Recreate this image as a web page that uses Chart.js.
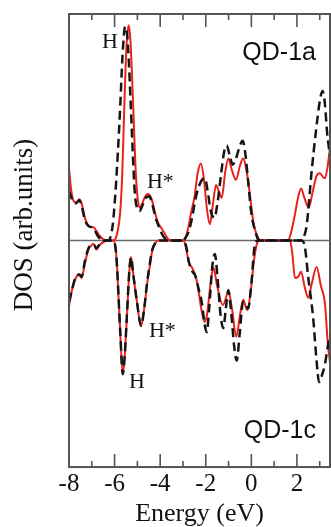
<!DOCTYPE html>
<html>
<head>
<meta charset="utf-8">
<script src="https://cdn.jsdelivr.net/npm/chart.js@4.4.0/dist/chart.umd.min.js"></script>
<style>
  html, body { margin: 0; padding: 0; background: #fff; }
  canvas { display: block; }
</style>
</head>
<body>
<canvas id="dos" width="331" height="527"></canvas>
<script>
// Density of states, QD-1a (upper half, positive) and QD-1c (lower half, drawn negative).
// Energies in eV, DOS in arbitrary units.

const topRedEnergy = [-8.00,-7.90,-7.80,-7.68,-7.55,-7.45,-7.30,-7.18,-7.05,-6.92,-6.80,-6.65,-6.48,-6.30,-6.05,-5.95,-5.85,-5.75,-5.67,-5.60,-5.52,-5.45,-5.38,-5.31,-5.24,-5.15,-5.06,-4.98,-4.90,-4.80,-4.68,-4.55,-4.45,-4.35,-4.22,-4.10,-3.95,-3.82,-3.70,-3.55,-3.00,-2.90,-2.78,-2.65,-2.50,-2.35,-2.21,-2.08,-1.95,-1.82,-1.70,-1.55,-1.42,-1.30,-1.15,-1.01,-0.85,-0.68,-0.50,-0.36,-0.25,-0.14,0.00,0.08,0.20,0.30,0.42,1.60,1.70,1.80,1.91,2.05,2.18,2.32,2.52,2.70,2.86,3.01,3.15,3.23,3.35,3.45];
const topRedDos    = [0.32,0.22,0.175,0.168,0.182,0.165,0.10,0.07,0.06,0.058,0.042,0.02,0.005,0,0,0.01,0.05,0.13,0.28,0.50,0.76,0.90,0.95,0.89,0.74,0.50,0.28,0.18,0.145,0.16,0.19,0.205,0.20,0.175,0.12,0.08,0.055,0.035,0.013,0,0,0.01,0.05,0.12,0.19,0.30,0.34,0.27,0.14,0.072,0.15,0.245,0.215,0.188,0.30,0.362,0.31,0.268,0.33,0.362,0.33,0.262,0.15,0.087,0.035,0.012,0,0,0.02,0.06,0.115,0.19,0.23,0.19,0.145,0.22,0.285,0.297,0.28,0.275,0.33,0.41];

const topBlackEnergy = [-8.00,-7.90,-7.80,-7.68,-7.55,-7.45,-7.30,-7.15,-7.00,-6.90,-6.75,-6.60,-6.45,-6.25,-6.17,-6.08,-5.97,-5.85,-5.75,-5.65,-5.57,-5.52,-5.45,-5.38,-5.30,-5.22,-5.12,-5.02,-4.90,-4.78,-4.65,-4.52,-4.42,-4.32,-4.20,-4.05,-3.90,-3.75,-3.65,-3.00,-2.90,-2.75,-2.60,-2.46,-2.30,-2.15,-2.04,-1.92,-1.78,-1.62,-1.48,-1.32,-1.18,-1.08,-0.95,-0.82,-0.68,-0.50,-0.38,-0.26,-0.14,0.00,0.16,0.30,0.40,2.20,2.30,2.43,2.64,2.83,3.01,3.12,3.22,3.32,3.40,3.45];
const topBlackDos    = [0.22,0.19,0.17,0.165,0.178,0.155,0.09,0.065,0.058,0.05,0.022,0.005,0,0,0.02,0.07,0.20,0.40,0.60,0.82,0.93,0.945,0.91,0.80,0.62,0.43,0.22,0.145,0.13,0.155,0.185,0.195,0.185,0.15,0.10,0.06,0.025,0.005,0,0,0.01,0.04,0.10,0.18,0.24,0.27,0.275,0.22,0.13,0.10,0.17,0.30,0.40,0.42,0.375,0.335,0.36,0.42,0.44,0.38,0.26,0.12,0.044,0.005,0,0,0.015,0.07,0.30,0.48,0.62,0.66,0.61,0.48,0.41,0.37];

const bottomRedEnergy = [-8.00,-7.85,-7.72,-7.55,-7.45,-7.30,-7.15,-7.00,-6.92,-6.80,-6.65,-6.50,-6.30,-6.04,-5.95,-5.89,-5.75,-5.64,-5.55,-5.46,-5.35,-5.28,-5.18,-5.02,-4.84,-4.70,-4.58,-4.45,-4.36,-4.20,-4.10,-2.97,-2.85,-2.75,-2.60,-2.47,-2.35,-2.20,-2.05,-1.95,-1.80,-1.67,-1.50,-1.25,-1.00,-0.85,-0.66,-0.50,-0.36,-0.18,0.00,0.10,0.23,0.35,1.69,1.80,1.91,2.05,2.18,2.35,2.50,2.65,2.86,3.05,3.23,3.35,3.45];
const bottomRedDos    = [-0.29,-0.21,-0.17,-0.15,-0.165,-0.10,-0.04,-0.02,-0.015,-0.04,-0.02,-0.007,0,0,-0.04,-0.12,-0.41,-0.59,-0.50,-0.34,-0.13,-0.073,-0.15,-0.27,-0.379,-0.30,-0.197,-0.11,-0.051,-0.01,0,0,-0.04,-0.095,-0.12,-0.15,-0.20,-0.30,-0.36,-0.33,-0.20,-0.118,-0.20,-0.285,-0.227,-0.30,-0.424,-0.33,-0.262,-0.307,-0.20,-0.10,-0.02,0,0,-0.06,-0.166,-0.16,-0.138,-0.21,-0.253,-0.19,-0.117,-0.20,-0.28,-0.45,-0.54];

const bottomBlackEnergy = [-8.00,-7.85,-7.72,-7.55,-7.45,-7.30,-7.15,-7.00,-6.90,-6.80,-6.65,-6.50,-6.35,-6.04,-5.95,-5.89,-5.75,-5.64,-5.55,-5.46,-5.35,-5.28,-5.18,-5.02,-4.84,-4.70,-4.58,-4.45,-4.36,-4.20,-4.10,-2.97,-2.85,-2.75,-2.60,-2.46,-2.30,-2.18,-2.05,-1.96,-1.85,-1.72,-1.60,-1.48,-1.35,-1.23,-1.12,-1.01,-0.90,-0.75,-0.64,-0.52,-0.36,-0.14,0.00,0.16,0.30,2.21,2.35,2.50,2.71,2.86,2.97,3.08,3.22,3.35,3.45];
const bottomBlackDos    = [-0.27,-0.21,-0.165,-0.15,-0.16,-0.09,-0.035,-0.02,-0.02,-0.035,-0.015,-0.003,0,0,-0.04,-0.12,-0.41,-0.59,-0.50,-0.33,-0.13,-0.075,-0.15,-0.27,-0.375,-0.30,-0.19,-0.10,-0.045,-0.008,0,0,-0.03,-0.09,-0.135,-0.155,-0.22,-0.27,-0.37,-0.405,-0.30,-0.12,-0.06,-0.17,-0.33,-0.387,-0.30,-0.22,-0.30,-0.47,-0.53,-0.42,-0.27,-0.30,-0.19,-0.014,0,0,-0.03,-0.167,-0.34,-0.53,-0.625,-0.60,-0.55,-0.47,-0.42];

const energyTickLabels = [-8, -6, -4, -2, 0, 2];

// Text placed in data coordinates (left/right edge of the baseline).
const panelNotes = [
  { text: 'QD-1a', x: 2.833, y: 0.799,  align: 'right', font: '25px "Liberation Sans"' },
  { text: 'QD-1c', x: 2.833, y: -0.873, align: 'right', font: '25px "Liberation Sans"' },
  { text: 'H',     x: -6.553, y: 0.852, align: 'left',  font: '22px "Liberation Serif"' },
  { text: 'H*',    x: -4.579, y: 0.231, align: 'left',  font: '22px "Liberation Serif"' },
  { text: 'H*',    x: -4.491, y: -0.424, align: 'left', font: '22px "Liberation Serif"' },
  { text: 'H',     x: -5.368, y: -0.649, align: 'left', font: '22px "Liberation Serif"' }
];

const toPoints = (e, d) => e.map((x, i) => ({ x, y: d[i] }));

const RED = '#e8231d';
const BLACK = '#151515';
const FRAME = '#555555';

const redLine = { borderColor: RED, borderWidth: 2, pointRadius: 0, cubicInterpolationMode: 'monotone', fill: false, order: 2 };
const blackLine = { borderColor: BLACK, borderWidth: 2.5, borderDash: [9, 5], pointRadius: 0, cubicInterpolationMode: 'monotone', fill: false, order: 1 };

// Zero line under the curves.
const zeroLine = {
  id: 'zeroLine',
  beforeDatasetsDraw(chart) {
    const { ctx, chartArea, scales } = chart;
    const y = scales.y.getPixelForValue(0);
    ctx.save();
    ctx.strokeStyle = '#6a6a6a';
    ctx.lineWidth = 1.5;
    ctx.beginPath();
    ctx.moveTo(chartArea.left, y);
    ctx.lineTo(chartArea.right, y);
    ctx.stroke();
    ctx.restore();
  }
};

// Box frame with inward tick marks on top and bottom edges.
const frameTicks = {
  id: 'frameTicks',
  afterDatasetsDraw(chart) {
    const { ctx, chartArea, scales } = chart;
    const { left, right, top, bottom } = chartArea;
    ctx.save();
    ctx.strokeStyle = FRAME;
    ctx.lineWidth = 2;
    ctx.strokeRect(left, top, right - left, bottom - top);
    ctx.lineWidth = 1.6;
    ctx.beginPath();
    scales.x.ticks.forEach(t => {
      const px = scales.x.getPixelForValue(t.value);
      const len = (Math.round(t.value) % 2 === 0) ? 13 : 6;
      ctx.moveTo(px, top);
      ctx.lineTo(px, top + len);
      ctx.moveTo(px, bottom);
      ctx.lineTo(px, bottom - len);
    });
    ctx.stroke();
    ctx.restore();
  },
  afterDraw(chart) {
    const { ctx, scales } = chart;
    ctx.save();
    ctx.fillStyle = '#111';
    ctx.textBaseline = 'alphabetic';
    panelNotes.forEach(n => {
      ctx.font = n.font;
      ctx.textAlign = n.align;
      ctx.fillText(n.text, scales.x.getPixelForValue(n.x), scales.y.getPixelForValue(n.y));
    });
    // Vertical axis title
    ctx.translate(31.5, 225);
    ctx.rotate(-Math.PI / 2);
    ctx.font = '27px "Liberation Serif"';
    ctx.textAlign = 'center';
    ctx.fillText('DOS (arb.units)', 0, 0);
    ctx.restore();
  }
};

new Chart(document.getElementById('dos'), {
  type: 'line',
  data: {
    datasets: [
      Object.assign({ label: 'QD-1a red', data: toPoints(topRedEnergy, topRedDos) }, redLine),
      Object.assign({ label: 'QD-1a black', data: toPoints(topBlackEnergy, topBlackDos) }, blackLine),
      Object.assign({ label: 'QD-1c red', data: toPoints(bottomRedEnergy, bottomRedDos) }, redLine),
      Object.assign({ label: 'QD-1c black', data: toPoints(bottomBlackEnergy, bottomBlackDos) }, blackLine)
    ]
  },
  options: {
    responsive: false,
    animation: false,
    devicePixelRatio: 1,
    layout: { padding: { left: 69, top: 14, right: 1, bottom: 0 } },
    plugins: { legend: { display: false }, tooltip: { enabled: false } },
    scales: {
      x: {
        type: 'linear',
        min: -8,
        max: 3.45,
        grid: { display: false, drawTicks: false },
        border: { display: false },
        ticks: {
          stepSize: 1,
          includeBounds: false,
          autoSkip: false,
          maxRotation: 0,
          padding: 5,
          color: '#111',
          font: { family: '"Liberation Serif"', size: 25, lineHeight: 1 },
          callback: v => energyTickLabels.includes(v) ? String(v) : ''
        },
        title: {
          display: true,
          text: 'Energy (eV)',
          color: '#111',
          font: { family: '"Liberation Serif"', size: 26, lineHeight: 0.96 },
          padding: { top: 0, bottom: 0 }
        }
      },
      y: { display: false, min: -1, max: 1 }
    }
  },
  plugins: [zeroLine, frameTicks]
});
</script>
</body>
</html>
